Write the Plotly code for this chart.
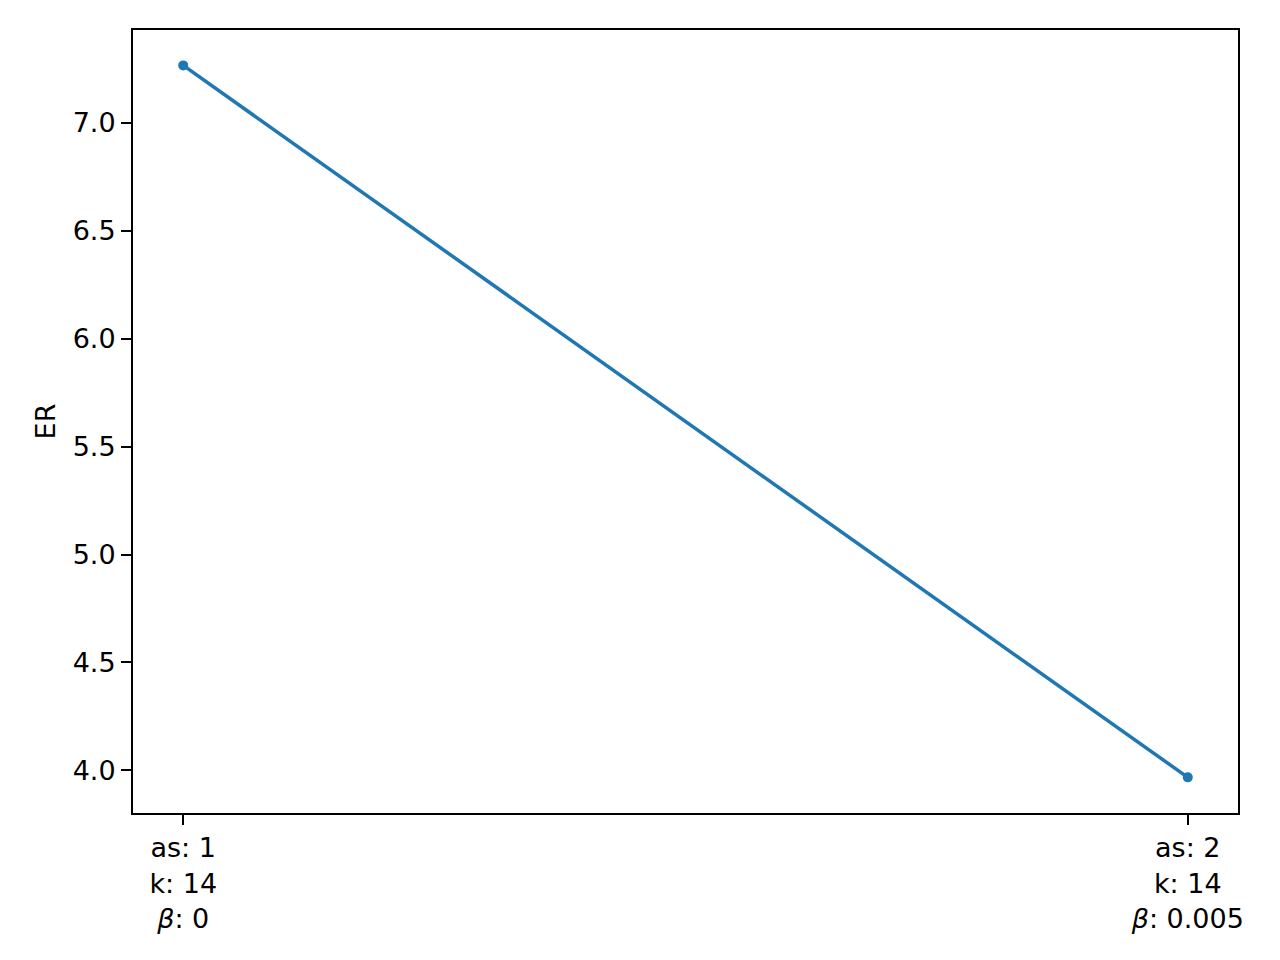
import plotly.graph_objects as go

# configurations compared
x_pos = [0, 1]
tick_labels = [
    "as: 1<br>k: 14<br><i>β</i>: 0",
    "as: 2<br>k: 14<br><i>β</i>: 0.005",
]
er_values = [7.265, 3.968]

blue = "#1f77b4"
font = dict(family="DejaVu Sans", size=27, color="black")

fig = go.Figure()
fig.add_trace(
    go.Scatter(
        x=x_pos,
        y=er_values,
        mode="lines+markers",
        line=dict(color=blue, width=3.5),
        marker=dict(color=blue, size=10),
        showlegend=False,
    )
)

axis_common = dict(
    showline=True,
    linecolor="black",
    linewidth=2,
    mirror=True,
    showgrid=False,
    zeroline=False,
    ticks="outside",
    ticklen=10,
    tickwidth=2,
    tickcolor="black",
    tickfont=font,
)

# page body adds ~8px offset, so margins are shifted accordingly
fig.update_layout(
    width=1280,
    height=960,
    paper_bgcolor="white",
    plot_bgcolor="white",
    font=font,
    margin=dict(l=125, r=50, t=22, b=155),
    xaxis=dict(
        range=[-0.05, 1.05],
        tickvals=x_pos,
        ticktext=tick_labels,
        **axis_common,
    ),
    yaxis=dict(
        range=[3.803, 7.429],
        tickvals=[4.0, 4.5, 5.0, 5.5, 6.0, 6.5, 7.0],
        tickformat=".1f",
        title=dict(text="ER", font=font, standoff=9),
        **axis_common,
    ),
)

fig.write_html("out.html")
